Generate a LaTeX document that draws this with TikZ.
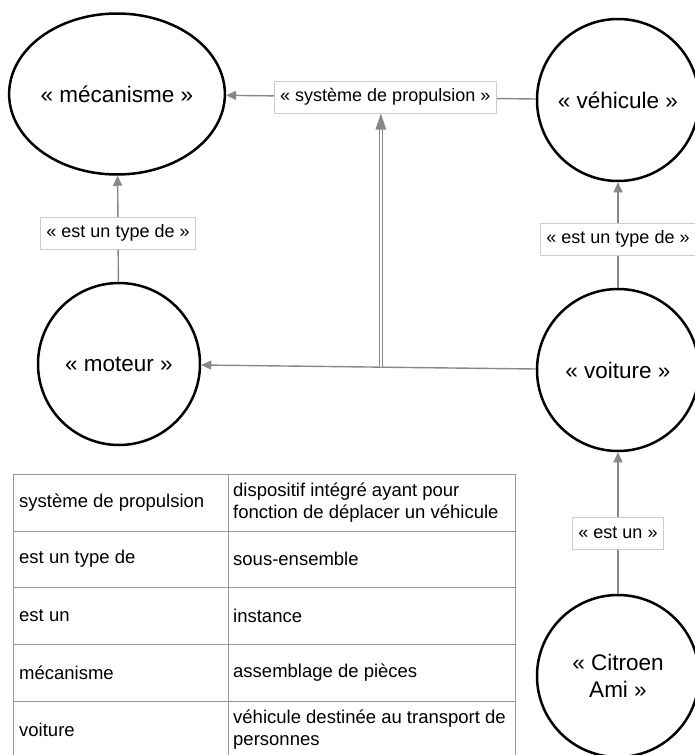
\documentclass[tikz,border=0pt]{standalone}
\usepackage{fontspec}
\setmainfont{Liberation Sans}
\usetikzlibrary{shapes.geometric,arrows.meta,calc}
\definecolor{conn}{HTML}{888888}
\definecolor{lblborder}{HTML}{CCCCCC}
\definecolor{tabline}{HTML}{999999}
\tikzset{
 concept/.style={circle, draw=black, line width=2.5pt, minimum size=162pt, inner sep=0pt, font=\fontsize{22.5}{27}\selectfont, align=center},
 rel/.style={draw=conn, line width=1.4pt, -{Triangle[length=10pt,width=9pt]}},
 lbl/.style={draw=lblborder, line width=0.8pt, fill=white, font=\fontsize{18}{22}\selectfont, inner xsep=6pt, minimum height=32pt},
 cell/.style={anchor=west, font=\fontsize{18.5}{21.5}\selectfont, align=left, inner sep=0pt},
 grid/.style={draw=tabline, line width=1pt},
}
\begin{document}
\begin{tikzpicture}[x=1pt,y=-1pt]
\useasboundingbox[fill=white] (0,0) rectangle (695,755);
\node[concept, ellipse, minimum width=207pt, minimum height=161pt] (mec) at (117,94) {« mécanisme »};
\node[concept] (veh) at (618,100) {« véhicule »};
\node[concept] (mot) at (119,364) {« moteur »};
\node[concept] (voi) at (618,370) {« voiture »};
\node[concept] (cit) at (618,676) {« Citroen\\Ami »};

\draw[rel] (veh) -- node[lbl, pos=0.486] (lsp) {« système de propulsion »} (mec);
\draw[rel] (mot) -- node[lbl, pos=0.46] (l1) {« est un type de »} (mec);
\draw[rel] (voi) -- node[lbl, pos=0.46] (l2) {« est un type de »} (veh);
\draw[rel] (cit) -- node[lbl, pos=0.43] (l3) {« est un »} (voi);
\draw[rel] (voi) -- coordinate[pos=0.463] (j) (mot);
\draw[draw=conn, line width=0.8pt, double=white, double distance=2pt, shorten >=15pt] (j) -- (j |- lsp.south);
\fill[conn] (j |- lsp.south) -- ++(-5.5,16) -- ++(11,0) -- cycle;

\draw[grid] (13,474) rectangle (515,758);
\foreach \yy in {531,587,644,701} { \draw[grid] (13,\yy) -- (515,\yy); }
\draw[grid] (228,474) -- (228,758);

\node[cell] (a1) at (19,502.5) {système de propulsion};
\node[cell] (b1) at (233,502.5) {dispositif intégré ayant pour\\fonction de déplacer un véhicule};
\node[cell] (a2) at (19,559) {est un type de};
\node[cell] (b2) at (233,559) {sous-ensemble};
\node[cell] (a3) at (19,615.5) {est un};
\node[cell] (b3) at (233,615.5) {instance};
\node[cell] (a4) at (19,672.5) {mécanisme};
\node[cell] (b4) at (233,672.5) {assemblage de pièces};
\node[cell] (a5) at (19,729.5) {voiture};
\node[cell] (b5) at (233,729.5) {véhicule destinée au transport de\\personnes};
\end{tikzpicture}
\end{document}
